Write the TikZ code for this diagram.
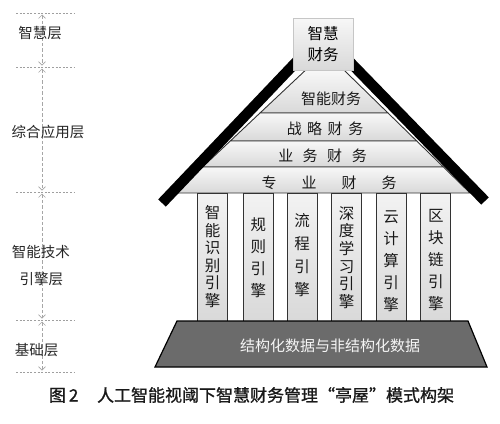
\documentclass[tikz,border=0pt]{standalone}
\usepackage{fontspec}
\setmainfont{Noto Sans CJK SC}
\newfontfamily\capfont[FakeBold=1.1]{Noto Sans CJK SC}
\usetikzlibrary{arrows.meta}
\begin{document}
\begin{tikzpicture}[x=1pt,y=-1pt,
  guide/.style={draw=gray!75, line width=0.6pt, dash pattern=on 2pt off 1.6pt},
  dimarrow/.style={draw=gray!70, line width=0.6pt, dash pattern=on 3.5pt off 2pt,
    {Straight Barb[length=3.5pt,width=7pt,line width=0.7pt]}-{Straight Barb[length=3.5pt,width=7pt,line width=0.7pt]},
    shorten >=1.5pt, shorten <=1.5pt},
  sidelabel/.style={font=\fontsize{14.5}{16}\selectfont, text=black!85, inner sep=0pt},
  layerbox/.style={top color=gray!6, bottom color=gray!30, draw=black!80, line width=0.9pt},
  layertext/.style={font=\fontsize{15}{17}\selectfont, inner sep=0pt, text=black!90},
  pillarbox/.style={top color=gray!10, bottom color=gray!30, draw=black!80, line width=0.9pt,
    minimum width=30pt, minimum height=128pt, inner sep=0pt},
  pillartext/.style={inner sep=0pt, align=center, text=black!90},
  roofbar/.style={line width=10.5pt, draw=black},
  topbox/.style={top color=gray!6, bottom color=gray!30, draw=gray!45, line width=0.5pt,
    minimum width=60pt, minimum height=52pt, inner sep=0pt, align=center,
    font=\fontsize{15.5}{21.5}\selectfont},
  basebox/.style={fill=black!58, draw=black, line width=1.2pt},
  basetext/.style={font=\fontsize{15}{17}\selectfont, text=gray!8, inner sep=0pt},
  captiontext/.style={font=\capfont\fontsize{17}{20}\selectfont, inner sep=0pt, text=black!90}
]
\useasboundingbox (0,0) rectangle (500,423);

% ---- left guide lines and arrows
\foreach \yy/\nm in {13/g1,67/g2,192/g3,320/g4,372/g5}{
  \coordinate (\nm a) at (16,\yy);
  \coordinate (\nm b) at (75,\yy);
  \coordinate (\nm c) at (42,\yy);
  \draw[guide] (\nm a) -- (\nm b);
}
\draw[dimarrow] (g1c) -- (g2c);
\draw[dimarrow] (g2c) -- (g3c);
\draw[dimarrow] (g3c) -- (g4c);
\draw[dimarrow] (g4c) -- (g5c);

\node[sidelabel] (lab1) at (40,33) {智慧层};
\node[sidelabel] (lab2) at (48,131.7) {综合应用层};
\node[sidelabel] (lab3) at (41,252) {智能技术};
\node[sidelabel] (lab4) at (41.5,279) {引擎层};
\node[sidelabel] (lab5) at (36.7,350) {基础层};

% ---- roof layers
\path[layerbox] (305.7,70) -- (343.9,70) -- (388,113) -- (260,113) -- cycle;
\path[layerbox] (260,113) -- (388,113) -- (416.7,141) -- (230.3,141) -- cycle;
\path[layerbox] (230.3,141) -- (416.7,141) -- (443.4,167) -- (202.6,167) -- cycle;
\path[layerbox] (202.6,167) -- (443.4,167) -- (470,193) -- (175,193) -- cycle;

\node[layertext] (l1) at (331.2,98.5) {智能财务};
\node[layertext] (l2) at (325,128.5) {战\hspace{5.5pt}略\hspace{5.5pt}财\hspace{5.5pt}务};
\node[layertext] (l3) at (322.5,155.5) {业\hspace{9.5pt}务\hspace{9.5pt}财\hspace{9.5pt}务};
\node[layertext] (l4) at (329.2,182.5) {专\hspace{25pt}业\hspace{25pt}财\hspace{25pt}务};

% ---- roof bars
\coordinate (rla) at (300,58);
\coordinate (rlb) at (162,203);
\coordinate (rra) at (346,58);
\coordinate (rrb) at (485,201);
\draw[roofbar] (rla) -- (rlb);
\draw[roofbar] (rra) -- (rrb);

% ---- top box
\node[topbox] (top) at (323,44) {智慧\\财务};

% ---- pillars
\node[pillarbox] (p1) at (212.5,257) {};
\node[pillarbox] (p2) at (258.3,257) {};
\node[pillarbox] (p3) at (302.2,257) {};
\node[pillarbox] (p4) at (346.7,257) {};
\node[pillarbox] (p5) at (391,257) {};
\node[pillarbox] (p6) at (435.8,257) {};

\node[pillartext, font=\fontsize{15.5}{17.6}\selectfont] (t1) at (212.5,256.5) {智\\能\\识\\别\\引\\擎};
\node[pillartext, font=\fontsize{15.5}{22}\selectfont] (t2) at (258.3,257.5) {规\\则\\引\\擎};
\node[pillartext, font=\fontsize{15.5}{23}\selectfont] (t3) at (302.2,255.5) {流\\程\\引\\擎};
\node[pillartext, font=\fontsize{15.5}{17.6}\selectfont] (t4) at (346.7,257.5) {深\\度\\学\\习\\引\\擎};
\node[pillartext, font=\fontsize{15.5}{22}\selectfont] (t5) at (391,261.5) {云\\计\\算\\引\\擎};
\node[pillartext, font=\fontsize{15.5}{22}\selectfont] (t6) at (435.8,260) {区\\块\\链\\引\\擎};

% ---- base
\path[basebox] (177,321) -- (468,321) -- (487,367) -- (155,367) -- cycle;
\node[basetext] (base) at (330,345.5) {结构化数据与非结构化数据};

% ---- caption
\node[captiontext] (cap) at (251.5,395) {图\hspace{3pt}2\hspace{1.1em}人工智能视阈下智慧财务管理“亭屋”模式构架};
\end{tikzpicture}
\end{document}
